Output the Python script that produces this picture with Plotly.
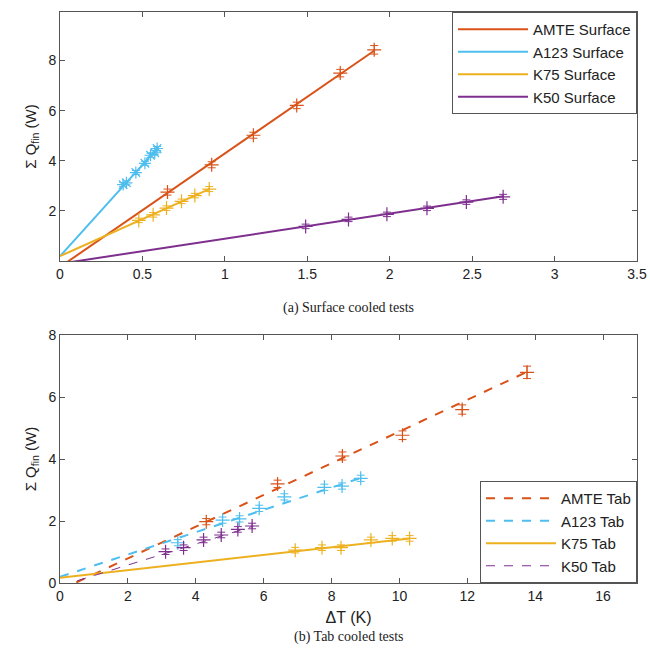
import plotly.graph_objects as go

# ---------------- data: (a) surface cooled ----------------
amte_s_x = [0.652, 0.92, 1.173, 1.436, 1.70, 1.906]
amte_s_y = [2.75, 3.84, 5.02, 6.21, 7.50, 8.43]
amte_s_e = [0.12, 0.12, 0.12, 0.13, 0.15, 0.17]

a123_s_x = [0.383, 0.403, 0.46, 0.515, 0.549, 0.575, 0.589]
a123_s_y = [3.05, 3.12, 3.53, 3.90, 4.22, 4.32, 4.49]
a123_s_e = [0.08, 0.08, 0.08, 0.08, 0.08, 0.08, 0.08]

k75_s_x = [0.478, 0.565, 0.646, 0.737, 0.818, 0.905]
k75_s_y = [1.62, 1.84, 2.11, 2.38, 2.61, 2.87]
k75_s_e = [0.09, 0.09, 0.09, 0.09, 0.09, 0.1]

k50_s_x = [1.49, 1.75, 1.983, 2.226, 2.465, 2.688]
k50_s_y = [1.38, 1.66, 1.86, 2.10, 2.35, 2.56]
k50_s_e = [0.09, 0.09, 0.09, 0.09, 0.09, 0.1]

# linear fits (slope, intercept, x end)
fit_s = {
    "AMTE Surface": (4.53, -0.24, 1.91),
    "A123 Surface": (7.30, 0.19, 0.59),
    "K75 Surface": (2.96, 0.19, 0.905),
    "K50 Surface": (1.00, -0.11, 2.69),
}

# ---------------- data: (b) tab cooled ----------------
amte_t_x = [4.31, 6.41, 8.32, 10.09, 11.85, 13.76]
amte_t_y = [1.98, 3.20, 4.10, 4.77, 5.60, 6.80]
amte_t_e = [0.1, 0.12, 0.13, 0.14, 0.15, 0.2]

a123_t_x = [3.47, 4.79, 5.29, 5.87, 6.61, 7.79, 8.31, 8.86]
a123_t_y = [1.30, 2.03, 2.07, 2.41, 2.78, 3.09, 3.13, 3.38]
a123_t_e = [0.1, 0.1, 0.1, 0.1, 0.1, 0.1, 0.1, 0.1]

k75_t_x = [6.93, 7.72, 8.28, 9.16, 9.79, 10.3]
k75_t_y = [1.06, 1.14, 1.14, 1.39, 1.44, 1.44]
k75_t_e = [0.09, 0.09, 0.09, 0.09, 0.09, 0.09]

k50_t_x = [3.11, 3.64, 4.23, 4.75, 5.24, 5.66]
k50_t_y = [1.01, 1.14, 1.39, 1.55, 1.73, 1.84]
k50_t_e = [0.09, 0.09, 0.09, 0.09, 0.09, 0.09]

fit_t = {
    "AMTE Tab": (0.512, -0.23, 13.8),
    "A123 Tab": (0.36, 0.20, 8.9),
    "K75 Tab": (0.123, 0.17, 10.3),
    "K50 Tab": (0.34, -0.10, 5.7),
}

C_AMTE = "#D95319"
C_A123 = "#4DBEEE"
C_K75 = "#EDB120"
C_K50 = "#7E2F8E"

fig = go.Figure()


def pts(x, y, e, color, symbol, xa, ya):
    fig.add_trace(go.Scatter(
        x=x, y=y, mode="markers", showlegend=False,
        marker=dict(symbol=symbol, size=10, color=color,
                    line=dict(color=color, width=1.2)),
        error_y=dict(type="data", array=e, color=color, thickness=1, width=4),
        xaxis=xa, yaxis=ya))


def fitline(name, fit, color, dash, width, xa, ya, legend):
    m, b, xe = fit
    xs = [0, xe]
    ys = [m * v + b for v in xs]
    fig.add_trace(go.Scatter(
        x=xs, y=ys, mode="lines", name=name,
        line=dict(color=color, dash=dash, width=width),
        xaxis=xa, yaxis=ya, legend=legend))


# top
fitline("AMTE Surface", fit_s["AMTE Surface"], C_AMTE, "solid", 2, "x", "y", "legend")
fitline("A123 Surface", fit_s["A123 Surface"], C_A123, "solid", 2, "x", "y", "legend")
fitline("K75 Surface", fit_s["K75 Surface"], C_K75, "solid", 2, "x", "y", "legend")
fitline("K50 Surface", fit_s["K50 Surface"], C_K50, "solid", 2, "x", "y", "legend")
pts(amte_s_x, amte_s_y, amte_s_e, C_AMTE, "cross-thin-open", "x", "y")
pts(a123_s_x, a123_s_y, a123_s_e, C_A123, "asterisk-open", "x", "y")
pts(k75_s_x, k75_s_y, k75_s_e, C_K75, "cross-thin-open", "x", "y")
pts(k50_s_x, k50_s_y, k50_s_e, C_K50, "cross-thin-open", "x", "y")

# bottom
fitline("AMTE Tab", fit_t["AMTE Tab"], C_AMTE, "dash", 2, "x2", "y2", "legend2")
fitline("A123 Tab", fit_t["A123 Tab"], C_A123, "dash", 2, "x2", "y2", "legend2")
fitline("K75 Tab", fit_t["K75 Tab"], C_K75, "solid", 2, "x2", "y2", "legend2")
fitline("K50 Tab", fit_t["K50 Tab"], C_K50, "dash", 1, "x2", "y2", "legend2")
pts(amte_t_x, amte_t_y, amte_t_e, C_AMTE, "cross-thin-open", "x2", "y2")
pts(a123_t_x, a123_t_y, a123_t_e, C_A123, "cross-thin-open", "x2", "y2")
pts(k75_t_x, k75_t_y, k75_t_e, C_K75, "cross-thin-open", "x2", "y2")
pts(k50_t_x, k50_t_y, k50_t_e, C_K50, "cross-thin-open", "x2", "y2")

ax_common = dict(showline=True, linecolor="#555555", linewidth=1, mirror="ticks",
                 ticks="inside", ticklen=5, tickcolor="#555555", showgrid=False,
                 zeroline=False, automargin=False,
                 tickfont=dict(family="Liberation Sans", size=14, color="#222222"))

fig.update_layout(
    width=650, height=653, autosize=False,
    paper_bgcolor="white", plot_bgcolor="white",
    margin=dict(l=60, r=13, t=12, b=70, autoexpand=False),
    font=dict(family="Liberation Sans", size=14, color="#222222"),
    xaxis=dict(domain=[0, 1], anchor="y", range=[0, 3.5], dtick=0.5,
               ticklabeloverflow="allow", **ax_common),
    yaxis=dict(domain=[0.564, 1], anchor="x", range=[0, 9.94], tickvals=[2, 4, 6, 8],
               title=dict(text="Σ Q<sub>fin</sub> (W)", font=dict(size=15), standoff=8),
               **ax_common),
    xaxis2=dict(domain=[0, 1], anchor="y2", range=[0, 17], dtick=2,
                title=dict(text="ΔT (K)", font=dict(size=16), standoff=9), **ax_common),
    yaxis2=dict(domain=[0, 0.434], anchor="x2", range=[0, 8], dtick=2,
                title=dict(text="Σ Q<sub>fin</sub> (W)", font=dict(size=15), standoff=8),
                **ax_common),
    legend=dict(x=1, y=1, xanchor="right", yanchor="top", xref="paper", yref="paper",
                bgcolor="white", bordercolor="#555555", borderwidth=1,
                font=dict(size=15), tracegroupgap=0, itemwidth=70),
    legend2=dict(x=1, y=0, xanchor="right", yanchor="bottom", xref="paper", yref="paper",
                 bgcolor="white", bordercolor="#555555", borderwidth=1,
                 font=dict(size=15), tracegroupgap=0, itemwidth=70),
    annotations=[
        dict(text="(a) Surface cooled tests", x=0.5, y=0.4816, xref="paper", yref="paper",
             showarrow=False, xanchor="center", yanchor="middle",
             font=dict(family="Liberation Serif", size=14, color="#222222")),
        dict(text="(b) Tab cooled tests", x=0.5, y=-0.0946, xref="paper", yref="paper",
             showarrow=False, xanchor="center", yanchor="middle",
             font=dict(family="Liberation Serif", size=14, color="#222222")),
    ],
)

fig.write_html(
    "out.html",
    config={"displayModeBar": False, "responsive": False},
    post_script="document.body.style.margin='0px';document.body.style.overflow='hidden';"
                "document.documentElement.style.overflow='hidden';",
)
